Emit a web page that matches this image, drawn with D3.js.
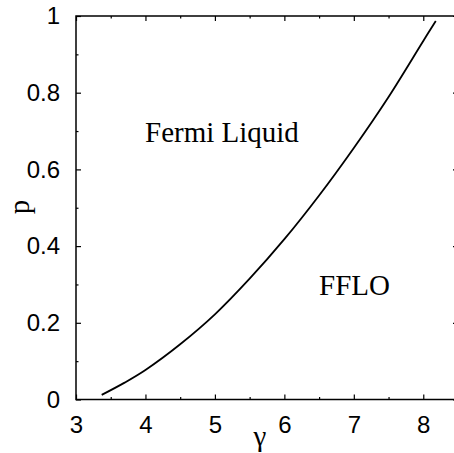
<!DOCTYPE html>
<html>
<head>
<meta charset="utf-8">
<script src="https://cdn.jsdelivr.net/npm/d3@7"></script>
<style>
  body { margin: 0; background: white; }
  svg { display: block; }
  .axis path { display: none; }
  .axis line { stroke: #000; stroke-width: 1.2; }
  .axis text { font-family: "Liberation Sans", Arial, sans-serif; font-size: 24px; fill: #000; }
</style>
</head>
<body>
<div class="chart"></div>
<script>
// phase boundary gamma vs p
const gamma = [3.37, 3.7, 4.0, 4.5, 5.0, 5.5, 6.0, 6.5, 7.0, 7.5, 8.0, 8.18];
const pol = [0.012, 0.044, 0.077, 0.144, 0.222, 0.315, 0.418, 0.532, 0.656, 0.789, 0.935, 0.987];
const xTicks = [3, 4, 5, 6, 7, 8];
const xMinor = [3.5, 4.5, 5.5, 6.5, 7.5, 8.5];
const yTicks = [0, 0.2, 0.4, 0.6, 0.8, 1];
const yMinor = [0.1, 0.3, 0.5, 0.7, 0.9];

const w = 454;
const h = 453;
const mLeft = 76, mTop = 16, mRight = 458, mBottom = 399.5;

const svg = d3.select('.chart').append('svg').attr('width', w).attr('height', h);

const x = d3.scaleLinear().domain([3, 8.5]).range([mLeft, mRight]);
const y = d3.scaleLinear().domain([0, 1]).range([mBottom, mTop]);

// major + minor ticks, inward on all four sides
svg.append('g').attr('class', 'axis').attr('transform', `translate(0,${mBottom})`)
  .call(d3.axisBottom(x).tickValues(xTicks).tickSize(-5).tickPadding(16.5).tickFormat(d3.format('d')));
svg.append('g').attr('class', 'axis').attr('transform', `translate(0,${mBottom})`)
  .call(d3.axisBottom(x).tickValues(xMinor).tickSize(-2.5).tickFormat(''));
svg.append('g').attr('class', 'axis').attr('transform', `translate(0,${mTop})`)
  .call(d3.axisTop(x).tickValues(xTicks).tickSize(-5).tickFormat(''));
svg.append('g').attr('class', 'axis').attr('transform', `translate(0,${mTop})`)
  .call(d3.axisTop(x).tickValues(xMinor).tickSize(-2.5).tickFormat(''));

svg.append('g').attr('class', 'axis').attr('transform', `translate(${mLeft},0)`)
  .call(d3.axisLeft(y).tickValues(yTicks).tickSize(-5).tickPadding(16).tickFormat(d3.format('')));
svg.append('g').attr('class', 'axis').attr('transform', `translate(${mLeft},0)`)
  .call(d3.axisLeft(y).tickValues(yMinor).tickSize(-2.5).tickFormat(''));
svg.append('g').attr('class', 'axis').attr('transform', `translate(${mRight},0)`)
  .call(d3.axisRight(y).tickValues(yTicks).tickSize(-5).tickFormat(''));
svg.append('g').attr('class', 'axis').attr('transform', `translate(${mRight},0)`)
  .call(d3.axisRight(y).tickValues(yMinor).tickSize(-2.5).tickFormat(''));

// frame
svg.append('rect').attr('x', mLeft).attr('y', mTop)
  .attr('width', mRight - mLeft).attr('height', mBottom - mTop)
  .attr('fill', 'none').attr('stroke', '#000').attr('stroke-width', 1.5);

const line = d3.line().x((d, i) => x(gamma[i])).y(d => y(d)).curve(d3.curveCatmullRom);
svg.append('path').datum(pol).attr('d', line)
  .attr('fill', 'none').attr('stroke', '#000').attr('stroke-width', 1.8);

const serif = '"Liberation Serif", "Times New Roman", serif';

svg.append('text').attr('x', 145).attr('y', 141.5).text('Fermi Liquid')
  .attr('font-family', serif).attr('font-size', 29);
svg.append('text').attr('x', 319).attr('y', 294.5).text('FFLO')
  .attr('font-family', serif).attr('font-size', 29);

// axis titles
svg.append('text').attr('transform', 'translate(29,207) rotate(-90)')
  .attr('text-anchor', 'middle').text('p')
  .attr('font-family', serif).attr('font-size', 29);
svg.append('text').attr('x', 260).attr('y', 446).attr('text-anchor', 'middle').text('γ')
  .attr('font-family', serif).attr('font-size', 29);
</script>
</body>
</html>
